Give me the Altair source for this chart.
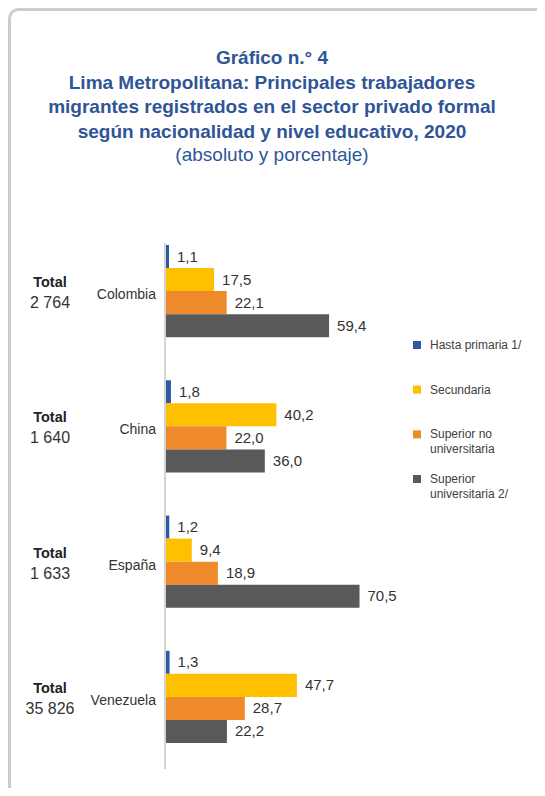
import altair as alt
import pandas as pd

countries = ["Colombia", "China", "España", "Venezuela"]
totals = ["2 764", "1 640", "1 633", "35 826"]
levels = ["Hasta primaria 1/", "Secundaria", "Superior no universitaria", "Superior universitaria 2/"]
legend_labels = ["Hasta primaria 1/", "Secundaria", "Superior no\nuniversitaria", "Superior\nuniversitaria 2/"]
colors = ["#2e59a6", "#ffc000", "#ef8a2b", "#595959"]
colombia = [1.1, 17.5, 22.1, 59.4]
china = [1.8, 40.2, 22.0, 36.0]
espana = [1.2, 9.4, 18.9, 70.5]
venezuela = [1.3, 47.7, 28.7, 22.2]
title_lines = ["Gráfico n.° 4",
               "Lima Metropolitana: Principales trabajadores",
               "migrantes registrados en el sector privado formal",
               "según nacionalidad y nivel educativo, 2020"]
subtitle = "(absoluto y porcentaje)"

FONT = "Liberation Sans"
TXT = "#333333"
BLUE = "#2f5597"

rows = []
for c, vals in zip(countries, [colombia, china, espana, venezuela]):
    for lv, v in zip(levels, vals):
        rows.append({"country": c, "level": lv, "value": v,
                     "label": f"{v:.1f}".replace(".", ",")})
df = pd.DataFrame(rows)
cdf = pd.DataFrame({"country": countries, "total": totals})
ldf = pd.DataFrame({"level": levels, "text": legend_labels})
one = pd.DataFrame({"a": [0]})

W, H = 529, 550
yscale = alt.Scale(type="band", domain=countries, range=[7, 505], paddingInner=0.3185, paddingOuter=0)
yoff = alt.YOffset("level:N", sort=levels,
                   scale=alt.Scale(domain=levels, paddingInner=0, paddingOuter=0))
xscale = alt.Scale(domain=[0, 100], range=[158, 432.5])
cscale = alt.Scale(domain=levels, range=colors)

panel = alt.Chart(one).mark_rect(
    fill="white", stroke="#cccccc", strokeWidth=3, cornerRadius=9
).encode(x=alt.value(1.5), x2=alt.value(700), y=alt.value(-228.5), y2=alt.value(900))

title_main = alt.Chart(one).mark_text(
    align="center", baseline="middle", font=FONT, fontSize=19, fontWeight="bold",
    color=BLUE, lineBreak="\n", lineHeight=24.5
).encode(x=alt.value(264), y=alt.value(-180), text=alt.value("\n".join(title_lines)))

title_sub = alt.Chart(one).mark_text(
    align="center", baseline="middle", font=FONT, fontSize=19, color=BLUE
).encode(x=alt.value(264), y=alt.value(-83), text=alt.value(subtitle))

axis_rule = alt.Chart(one).mark_rule(
    color="#d4d4d4", strokeWidth=2
).encode(x=alt.value(157), y=alt.value(5), y2=alt.value(531))

bars = alt.Chart(df).mark_bar().encode(
    x=alt.X("value:Q", scale=xscale, axis=None),
    y=alt.Y("country:N", scale=yscale, axis=None, sort=countries),
    yOffset=yoff,
    color=alt.Color("level:N", scale=cscale, legend=None),
)

vlabels = alt.Chart(df).mark_text(
    align="left", baseline="middle", dx=8, fontSize=15, font=FONT, color=TXT
).encode(
    x=alt.X("value:Q", scale=xscale, axis=None),
    y=alt.Y("country:N", scale=yscale, axis=None, sort=countries),
    yOffset=yoff,
    text="label:N",
)

clabels = alt.Chart(cdf).mark_text(
    align="right", baseline="middle", dy=4, fontSize=14, font=FONT, color=TXT
).encode(
    x=alt.value(148),
    y=alt.Y("country:N", scale=yscale, axis=None, sort=countries),
    text="country:N",
)

tword = alt.Chart(cdf).mark_text(
    align="center", baseline="middle", dy=-8, fontSize=14.5, fontWeight="bold", font=FONT, color="#222222"
).encode(
    x=alt.value(42),
    y=alt.Y("country:N", scale=yscale, axis=None, sort=countries),
    text=alt.value("Total"),
)

tnum = alt.Chart(cdf).mark_text(
    align="center", baseline="middle", dy=12, fontSize=16, font=FONT, color=TXT
).encode(
    x=alt.value(42),
    y=alt.Y("country:N", scale=yscale, axis=None, sort=countries),
    text="total:N",
)

lscale = alt.Scale(type="point", domain=levels, range=[107, 241], padding=0)
lsq = alt.Chart(ldf).mark_square(size=64, opacity=1).encode(
    x=alt.value(409),
    y=alt.Y("level:N", scale=lscale, axis=None, sort=levels),
    color=alt.Color("level:N", scale=cscale, legend=None),
)
ltext = alt.Chart(ldf).mark_text(
    align="left", baseline="middle", fontSize=12, font=FONT, color="#404040",
    lineBreak="\n", lineHeight=15
).encode(
    x=alt.value(422),
    y=alt.Y("level:N", scale=lscale, axis=None, sort=levels),
    text="text:N",
)

chart = alt.layer(
    panel, title_main, title_sub, axis_rule, bars, vlabels, clabels, tword, tnum, lsq, ltext
).resolve_scale(y="independent").properties(
    width=W, height=H,
    autosize=alt.AutoSizeParams(type="none"),
    padding={"top": 230, "left": 0, "right": 0, "bottom": 0},
).configure_view(stroke=None).configure(background="white")

chart.save("out.html", embed_options={"renderer": "svg", "actions": False})
